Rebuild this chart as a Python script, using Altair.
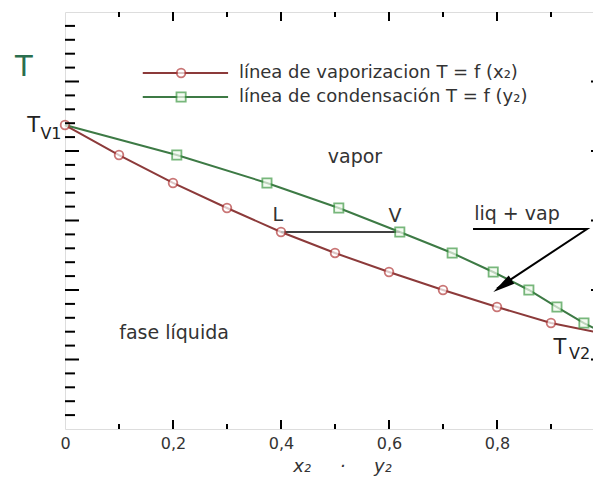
import altair as alt
import pandas as pd

# ---- data (T in arbitrary units, axis 0..6) ----
x_liq = [0.0, 0.1, 0.2, 0.3, 0.4, 0.5, 0.6, 0.7, 0.8, 0.9, 1.0]
y_vap = [0.0, 0.207, 0.374, 0.507, 0.620, 0.717, 0.793, 0.859, 0.911, 0.961, 1.0]
temps = [4.374, 3.942, 3.540, 3.180, 2.835, 2.532, 2.259, 2.000, 1.755, 1.525, 1.367]

x_ticks_major = [0.2, 0.4, 0.6, 0.8]
x_ticks_minor = [0.1, 0.3, 0.5, 0.7, 0.9]
x_labels = [0, 0.2, 0.4, 0.6, 0.8, 1]
y_ticks_major = [1, 2, 3, 4, 5]
y_ticks_minor = [round(i * 0.2, 1) for i in range(1, 30) if i % 5 != 0]

legend_labels = ["línea de vaporizacion T = f (x₂)", "línea de condensación T = f (y₂)"]
legend_y = [5.122, 4.777]
legend_x = [0.144, 0.302, 0.215, 0.322]  # line start, line end, marker, text

region_labels = ["vapor", "fase líquida", "L", "V", "liq + vap"]
region_x = [0.537, 0.202, 0.394, 0.611, 0.837]
region_y = [3.914, 1.381, 3.079, 3.065, 3.094]

tie_x = [0.4, 0.62]
tie_T = 2.835

arrow_x = [0.7556, 0.9667, 0.800]
arrow_y = [2.878, 2.878, 2.02]
head_x, head_y = 0.810, 2.06

NB = "\u00a0"
x_title = f"x₂{NB * 5}·{NB * 5}y₂"

FONT = "DejaVu Sans"
RED_LINE = "#8c3a3a"
RED_MARK = "#b33b3b"
GREEN_LINE = "#3d7a45"
GREEN_MARK = "#3f9a45"
TXT = "#333333"

W, H = 540, 417
XS = alt.Scale(domain=[0, 1], nice=False)
YS = alt.Scale(domain=[0, 6], nice=False, zero=False)
XA = alt.Axis(values=x_labels,
              labelExpr="replace(format(datum.value,'~g'),'.',',')",
              ticks=False, domain=False, grid=False,
              labelFont=FONT, labelFontSize=16, labelColor=TXT, labelPadding=6,
              labelFlush=False,
              title=x_title, titleFont=FONT, titleFontSize=18,
              titleFontStyle="italic", titleFontWeight="normal", titleColor=TXT,
              titlePadding=6, titleX=277, titleAlign="center", titleAnchor="start")


def X(f="x"):
    return alt.X(f"{f}:Q", scale=XS, axis=XA)


def Y(f="y"):
    return alt.Y(f"{f}:Q", scale=YS, axis=None)


liq = pd.DataFrame({"x": x_liq, "y": temps})
vap = pd.DataFrame({"x": y_vap, "y": temps})

red_line = alt.Chart(liq).mark_line(color=RED_LINE, strokeWidth=2).encode(x=X(), y=Y())
green_line = alt.Chart(vap).mark_line(color=GREEN_LINE, strokeWidth=2).encode(x=X(), y=Y())

circles = alt.Chart(liq.iloc[:10]).mark_point(
    shape="circle", size=75, filled=True, fill="white", stroke=RED_MARK, strokeWidth=1.8
).encode(x=X(), y=Y())
squares = alt.Chart(vap.iloc[1:10]).mark_point(
    shape="square", size=85, filled=True, fill="#f2faee", stroke=GREEN_MARK, strokeWidth=1.8
).encode(x=X(), y=Y())

tie = alt.Chart(pd.DataFrame({"x": [tie_x[0]], "x2": [tie_x[1]], "y": [tie_T]})).mark_rule(
    color="black", strokeWidth=1.5
).encode(x=X(), x2="x2:Q", y=Y())

# legend
leg = pd.DataFrame({"x": [legend_x[0]] * 2, "x2": [legend_x[1]] * 2, "y": legend_y,
                    "m": [legend_x[2]] * 2, "t": [legend_x[3]] * 2, "label": legend_labels})
leg_red_rule = alt.Chart(leg.iloc[[0]]).mark_rule(color=RED_LINE, strokeWidth=2).encode(x=X(), x2="x2:Q", y=Y())
leg_green_rule = alt.Chart(leg.iloc[[1]]).mark_rule(color=GREEN_LINE, strokeWidth=2).encode(x=X(), x2="x2:Q", y=Y())
leg_circle = alt.Chart(leg.iloc[[0]]).mark_point(
    shape="circle", size=75, filled=True, fill="white", stroke=RED_MARK, strokeWidth=1.8
).encode(x=X("m"), y=Y())
leg_square = alt.Chart(leg.iloc[[1]]).mark_point(
    shape="square", size=85, filled=True, fill="#f2faee", stroke=GREEN_MARK, strokeWidth=1.8
).encode(x=X("m"), y=Y())
leg_text = alt.Chart(leg).mark_text(
    align="left", baseline="middle", font=FONT, fontSize=18, color=TXT
).encode(x=X("t"), y=Y(), text="label:N")

# region labels
reg = pd.DataFrame({"x": region_x, "y": region_y, "label": region_labels})
reg_text = alt.Chart(reg).mark_text(
    align="center", baseline="middle", font=FONT, fontSize=19, color=TXT
).encode(x=X(), y=Y(), text="label:N")

# T labels
t_df = pd.DataFrame({"x": [-0.076], "y": [5.209], "label": ["T"]})
t_text = alt.Chart(t_df).mark_text(
    align="center", baseline="middle", font=FONT, fontSize=29, color="#2a6e4e"
).encode(x=X(), y=Y(), text="label:N")

tv_big = pd.DataFrame({"x": [-0.058, 0.9167], "y": [4.36, 1.165], "label": ["T", "T"]})
tv_sub = pd.DataFrame({"x": [-0.026, 0.953], "y": [4.24, 1.08], "label": ["V1", "V2"]})
tv_big_text = alt.Chart(tv_big).mark_text(
    align="center", baseline="middle", font=FONT, fontSize=21, color="#222222"
).encode(x=X(), y=Y(), text="label:N")
tv_sub_text = alt.Chart(tv_sub).mark_text(
    align="center", baseline="middle", font=FONT, fontSize=16, color="#222222"
).encode(x=X(), y=Y(), text="label:N")

# arrow
arr = pd.DataFrame({"x": arrow_x, "y": arrow_y, "o": [0, 1, 2]})
arrow_line = alt.Chart(arr).mark_line(color="black", strokeWidth=2).encode(
    x=X(), y=Y(), order="o:Q")
arrow_head = alt.Chart(pd.DataFrame({"x": [head_x], "y": [head_y]})).mark_point(
    shape="M0,-1L0.45,1L-0.45,1Z", size=480, angle=236, filled=True, color="black", opacity=1
).encode(x=X(), y=Y())

# inward ticks
def xticks(vals, length, top):
    d = pd.DataFrame({"x": vals})
    y0, y1 = (0, length) if top else (H, H - length)
    return alt.Chart(d).mark_rule(color="black", strokeWidth=2).encode(
        x=X(), y=alt.value(y0), y2=alt.value(y1))


def yticks(vals, length, right):
    d = pd.DataFrame({"y": vals})
    x0, x1 = (W, W - length) if right else (0, length)
    return alt.Chart(d).mark_rule(color="black", strokeWidth=2).encode(
        y=Y(), x=alt.value(x0), x2=alt.value(x1))


ticks = [
    xticks(x_ticks_major, 9, False), xticks(x_ticks_minor, 5, False),
    xticks(x_ticks_major, 9, True), xticks(x_ticks_minor, 5, True),
    yticks(y_ticks_major, 14, False), yticks(y_ticks_minor, 10, False),
    yticks(y_ticks_major, 14, True), yticks(y_ticks_minor, 9, True),
]

chart = alt.layer(
    red_line, green_line, tie, circles, squares,
    leg_red_rule, leg_green_rule, leg_circle, leg_square, leg_text,
    reg_text, t_text, tv_big_text, tv_sub_text,
    arrow_line, arrow_head, *ticks,
).properties(
    width=W, height=H,
    autosize=alt.AutoSizeParams(type="none"),
    padding={"left": 57, "top": 4, "right": -12, "bottom": 47},
).configure_view(
    stroke="black", strokeWidth=3
).configure(background="white")

chart.save("out.html", embed_options={"renderer": "svg", "actions": False})
